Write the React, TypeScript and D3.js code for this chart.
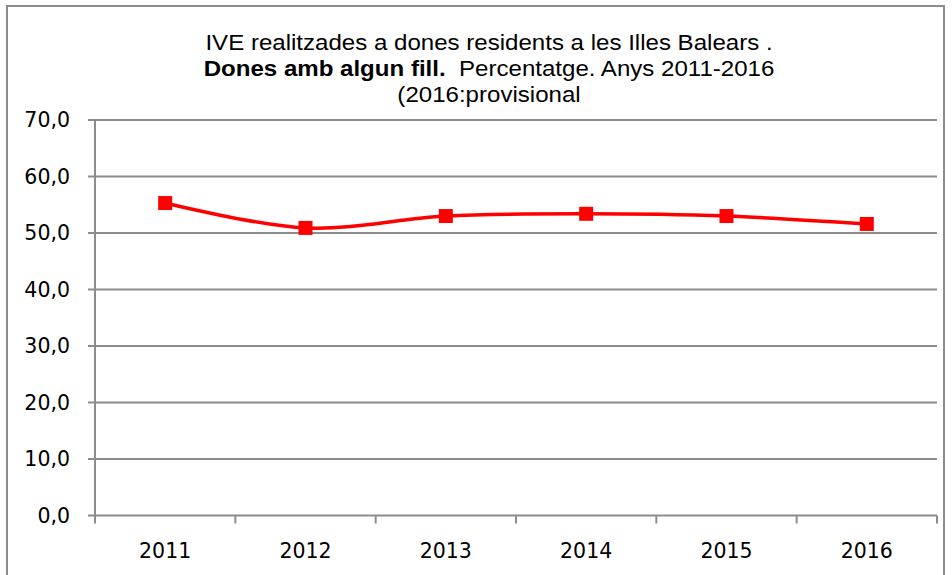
import * as d3 from "d3";

const years = ["2011", "2012", "2013", "2014", "2015", "2016"];
const percent = [55.3, 50.9, 53.0, 53.4, 53.0, 51.6];
const yTicks = [0, 10, 20, 30, 40, 50, 60, 70];

const W = 952;
const H = 575;
const left = 95;
const right = 937;
const top = 120;
const bottom = 515.5;

const App = () => {
  const x = d3.scaleBand().domain(years).range([left, right]);
  const y = d3.scaleLinear().domain([0, 70]).range([bottom, top]);
  const pts: [number, number][] = years.map((yr, i) => [x(yr)! + x.bandwidth() / 2, y(percent[i])]);
  const line = d3.line().curve(d3.curveCatmullRom.alpha(0.5))(pts) || "";
  const edges = years.map((yr) => x(yr)!).concat([right]);
  const fmt = (v: number) => v.toFixed(1).replace(".", ",");
  const grid = "#8c8c8c";
  const titleFont = "'Liberation Sans', Arial, sans-serif";
  const tickFont = "'DejaVu Sans', sans-serif";

  return (
    <svg width={W} height={H} style={{ position: "absolute", left: 0, top: 0, background: "#fff" }}>
      <rect x={7} y={6} width={937} height={620} fill="#fff" stroke={grid} strokeWidth={2} />
      {/* title is a bit wider than plain Arial in the source, so stretch it horizontally */}
      <g fontFamily={titleFont} fontSize={21.5} fill="#000" textAnchor="middle" transform="translate(489,0) scale(1.12,1)">
        <text x={0} y={50}>IVE realitzades a dones residents a les Illes Balears .</text>
        <text x={0} y={76}>
          <tspan fontWeight="bold">Dones amb algun fill.</tspan>
          <tspan xmlSpace="preserve">{"  Percentatge. Anys 2011-2016"}</tspan>
        </text>
        <text x={0} y={102}>(2016:provisional</text>
      </g>
      {yTicks.map((t) => (
        <g key={t}>
          <line x1={88} x2={right} y1={y(t)} y2={y(t)} stroke={grid} strokeWidth={2} />
          <text x={70} y={y(t)} dy="0.36em" textAnchor="end" fontFamily={tickFont} fontSize={20.5} fill="#000">
            {fmt(t)}
          </text>
        </g>
      ))}
      <line x1={left} x2={left} y1={top} y2={bottom} stroke={grid} strokeWidth={2} />
      {edges.map((e, i) => (
        <line key={i} x1={e} x2={e} y1={bottom} y2={bottom + 8} stroke={grid} strokeWidth={2} />
      ))}
      {years.map((yr) => (
        <text key={yr} x={x(yr)! + x.bandwidth() / 2} y={558} textAnchor="middle" fontFamily={tickFont} fontSize={20.5} fill="#000">
          {yr}
        </text>
      ))}
      <path d={line} fill="none" stroke="#ff0000" strokeWidth={3.5} />
      {pts.map(([px, py], i) => (
        <rect key={i} x={px - 7} y={py - 7} width={14} height={14} fill="#ff0000" />
      ))}
    </svg>
  );
};

export default App;
